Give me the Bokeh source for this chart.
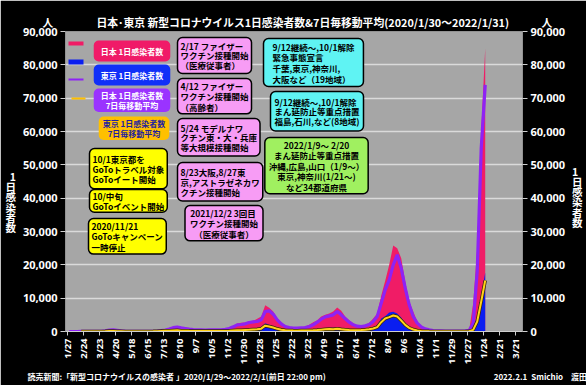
import math
import pandas as pd
from bokeh.plotting import figure
from bokeh.models import Label, BoxAnnotation, FixedTicker, LinearAxis, Range1d, NumeralTickFormatter, ColumnDataSource, Title
from bokeh.embed import file_html
from bokeh.resources import INLINE

nan = float("nan")

# ---- data (weekly readings, week centres from 2020-01-30) ----
FIRST_WEEK = "2020-01-30"
ORIGIN = "2020-01-27"

JAPAN_DAILY = [2, 5, 10, 20, 25, 40, 60, 50, 100, 250, 570, 620, 450, 280, 140, 80, 45, 45, 50, 50, 70, 100, 200,
               350, 650, 980, 1500, 1600, 1300, 1200, 900, 700, 650, 650, 600, 650, 650, 650, 700, 850, 1200, 1700,
               2400, 2600, 2700, 3100, 3200, 3800, 4500,
               7900, 7100, 6000, 4000, 2600, 1800, 1500, 1200, 1200, 1300, 1500, 2000, 2800, 3400, 4500, 5000, 5400,
               6000, 7200, 6200, 4500, 3400, 2500, 1900, 1800, 2000, 2600, 3900, 5400, 10700, 15200, 20000, 25800,
               25000, 22000, 15000, 9000, 6000, 3000, 1700, 1000, 600, 400, 250, 230, 200, 150, 150, 160, 200, 300, 550,
               8500, 25000, 60000, 85000]
JAPAN_AVG7 = [1, 2, 5, 12, 15, 25, 40, 35, 60, 170, 400, 500, 380, 220, 100, 50, 30, 30, 40, 40, 50, 70, 120,
              250, 450, 750, 1150, 1350, 1100, 900, 700, 550, 500, 530, 450, 500, 500, 530, 530, 650, 900, 1400,
              2000, 2100, 2300, 2700, 2900, 3000, 3500,
              6000, 6200, 5200, 3500, 2300, 1500, 1200, 1000, 1000, 1100, 1200, 1500, 2000, 2800, 3700, 4400, 4700,
              5000, 6000, 5000, 3800, 2800, 2000, 1600, 1500, 1700, 2100, 3000, 4500, 8500, 12500, 15500, 20000,
              23000, 19000, 13000, 8000, 4500, 2500, 1400, 800, 500, 300, 200, 180, 150, 120, 120, 120, 150, 200, 350,
              2500, 18000, 55000, 74000]
TOKYO_DAILY = [nan, nan, nan, 4, 5, 6, 8, 15, 45, 118, 180, 200, 160, 110, 60, 30, 15, 20, 25, 25, 45, 60, 120,
               240, 300, 370, 470, 470, 390, 340, 270, 230, 230, 220, 250, 270, 250, 280, 200, 250, 300, 390,
               530, 560, 600, 600, 820, 900, 1350,
               2500, 2000, 1500, 1000, 700, 500, 450, 340, 320, 340, 400, 430, 480, 550, 730, 860, 1030,
               1100, 1000, 800, 700, 550, 500, 500, 570, 700, 900, 1300, 1900, 3900, 4600, 5700, 5900,
               5400, 4200, 2400, 1400, 900, 500, 250, 100, 60, 40, 30, 30, 25, 25, 20, 25, 35, 50, 80,
               1200, 4500, 11000, 17600]
TOKYO_AVG7 = [nan, nan, nan, 2, 2, 3, 4, 8, 25, 70, 130, 160, 110, 70, 30, 20, 8, 10, 15, 18, 30, 50, 80,
              170, 220, 260, 330, 350, 260, 250, 200, 170, 170, 170, 150, 170, 170, 170, 160, 170, 220, 300,
              370, 400, 450, 500, 600, 650, 850,
              1750, 1500, 1200, 800, 550, 400, 300, 270, 260, 290, 300, 320, 380, 450, 550, 650, 750,
              700, 850, 650, 550, 450, 400, 380, 420, 530, 650, 900, 1300, 2800, 3900, 4300, 4800,
              4500, 3300, 2000, 1100, 600, 300, 160, 70, 40, 30, 20, 20, 20, 15, 15, 15, 20, 30, 60,
              500, 3000, 9000, 15300]

TICK_LABELS = ["1/27", "2/24", "3/23", "4/20", "5/18", "6/15", "7/13", "8/10", "9/7", "10/5", "11/2", "11/30",
               "12/28", "1/25", "2/22", "3/22", "4/19", "5/17", "6/14", "7/12", "8/9", "9/6", "10/4", "11/1",
               "11/29", "12/27", "1/24", "2/21", "3/21"]
Y_TICKS = [0, 10000, 20000, 30000, 40000, 50000, 60000, 70000, 80000, 90000]

origin = pd.Timestamp(ORIGIN)
weeks = pd.date_range(FIRST_WEEK, periods=len(JAPAN_DAILY), freq="7D")
day = [(d - origin).days for d in weeks]
tick_days = [(d - origin).days for d in pd.date_range(ORIGIN, periods=len(TICK_LABELS), freq="28D")]

src = ColumnDataSource(dict(day=day, jd=JAPAN_DAILY, ja=JAPAN_AVG7, td=TOKYO_DAILY, ta=TOKYO_AVG7))

# pixel helpers (page pixels -> data), frame: x 65..522, y 31..331
PX_PER_DAY = 448 / 784
def X(px):
    return (px - 67) / PX_PER_DAY
def Y(py):
    return (331 - py) * 300

JP = "Noto Sans CJK JP"
FONT = "Noto Sans"

p = figure(frame_width=457, frame_height=300,
           x_range=Range1d(X(65), X(522)), y_range=Range1d(0, 90000),
           output_backend="svg", toolbar_location=None,
           min_border_left=65, min_border_right=64, min_border_top=31, min_border_bottom=54,
           background_fill_color="#A6A6A6", border_fill_color="black", outline_line_color=None)

p.varea(x="day", y1=0, y2="jd", source=src, fill_color="#F01C66")
p.varea(x="day", y1=0, y2="td", source=src, fill_color="#0A1EF0")
p.line(x="day", y="ja", source=src, line_color="#8E22F5", line_width=3.2)
p.line(x="day", y="ta", source=src, line_color="#3A2A00", line_width=3.5)
p.line(x="day", y="ta", source=src, line_color="#FFD21A", line_width=2)

# axes
p.xgrid.grid_line_color = None
p.ygrid.grid_line_color = "#DADADA"
p.ygrid.grid_line_width = 1.5
p.ygrid.ticker = FixedTicker(ticks=Y_TICKS)

STACK = "1\n日\n感\n染\n者\n数"

def style_y(ax, blank_lines):
    ax.ticker = FixedTicker(ticks=Y_TICKS)
    ax.formatter = NumeralTickFormatter(format="0,0")
    ax.axis_line_color = None
    ax.major_tick_line_color = "#CFCFCF"
    ax.major_tick_out = 5
    ax.major_tick_in = 0
    ax.minor_tick_line_color = None
    ax.major_label_standoff = 3
    ax.major_label_text_color = "white"
    ax.major_label_text_font = FONT
    ax.major_label_text_font_style = "bold"
    ax.major_label_text_font_size = "11px"
    ax.axis_label = "\n" * blank_lines + STACK
    ax.axis_label_orientation = "horizontal"
    ax.axis_label_standoff = 4
    ax.axis_label_text_color = "white"
    ax.axis_label_text_font = JP
    ax.axis_label_text_font_style = "bold"
    ax.axis_label_text_font_size = "10.5px"
    ax.axis_label_text_line_height = 0.68

style_y(p.yaxis[0], 4)
ra = LinearAxis()
style_y(ra, 3)
p.add_layout(ra, "right")

xa = p.xaxis[0]
xa.ticker = FixedTicker(ticks=tick_days)
xa.major_label_overrides = {d: t for d, t in zip(tick_days, TICK_LABELS)}
xa.major_label_orientation = math.pi / 2
xa.axis_line_color = "#CFCFCF"
xa.major_tick_line_color = "#CFCFCF"
xa.major_tick_out = 4
xa.major_tick_in = 0
xa.minor_tick_line_color = None
xa.major_label_standoff = 3
xa.major_label_text_color = "white"
xa.major_label_text_font = FONT
xa.major_label_text_font_style = "bold"
xa.major_label_text_font_size = "9.5px"

# title (with the unit marks above both axes)
TITLE = "日本･東京 新型コロナウイルス1日感染者数&7日毎移動平均(2020/1/30～2022/1/31)"
p.title = Title(text="人" + "\u3000" * 3 + "\u2002" * 2 + TITLE + "\u3000" * 3 + "人",
                align="left", offset=-23, standoff=4, text_color="white", text_font=JP,
                text_font_style="bold", text_font_size="10.8px")

SOURCE = "読売新聞:「新型コロナウイルスの感染者 」2020/1/29～2022/2/1(前日 22:00 pm)"
SIGN = "2022.2.1\u2002Smichio"
p.add_layout(Title(text=SOURCE + "\u3000" * 21 + SIGN + "\u2003" + "渡田", align="left", offset=-38,
                   standoff=2, text_color="white", text_font=JP, text_font_style="bold",
                   text_font_size="8px"), "below")

# legend swatches
for (l, r, t, b, c) in [(68, 83, 41, 45, "#F01C66"), (68, 83, 59, 64, "#0A1EF0"),
                        (68, 83, 78, 80, "#8E22F5"), (71, 85, 97, 99, "#FFC000")]:
    p.add_layout(BoxAnnotation(left=X(l), right=X(r), top=Y(t), bottom=Y(b),
                               fill_color=c, fill_alpha=1, line_color=None))

def box(text, xpx, top, fill, color="black", align="left", size="8.5px", lh=0.85, pad=(3, 2),
        border="black", radius=5):
    p.add_layout(Label(x=X(xpx), y=Y(top), text=text, text_align=align, text_baseline="top",
                       text_font=JP, text_font_style="bold", text_font_size=size, text_color=color,
                       text_line_height=lh, background_fill_color=fill, border_line_color=border,
                       border_line_width=1.5, border_radius=radius, padding=pad))

# legend boxes
box("日本 1日感染者数", 131.5, 40, "#F01A68", "white", "center", "8px", 1.0, (7, 5), None)
box("東京 1日感染者数", 131.5, 64, "#1030F8", "white", "center", "8px", 1.0, (7, 5), None)
box("日本 1日感染者数\n7日毎移動平均", 131.5, 88, "#9A33FF", "white", "center", "8px", 0.95, (7, 1), None)
box("東京 1日感染者数\n7日毎移動平均", 133.5, 116, "#FFC000", "#1F1FA0", "center", "8px", 0.95, (4, 1), None)

YEL = "#FFFF00"
box("10/1東京都を\nGoToトラベル対象\nGoToイート開始", 89, 148, YEL, lh=0.84, pad=(3, 4))
box("10/中旬\nGoToイベント開始", 89, 189, YEL, lh=0.9, pad=(3, 0))
box("2020/11/21\nGoToキャンペーン\n一時停止", 88, 218, YEL, lh=0.9, pad=(3, 1))

PNK = "#F79CF5"
box("2/17  ファイザー\nワクチン接種開始\n（医療従事者）", 177, 37, PNK, lh=0.83, pad=(3, 2))
box("4/12  ファイザー\nワクチン接種開始\n（高齢者）", 177, 78, PNK, lh=0.89, pad=(3, 1))
box("5/24  モデルナワ\nクチン東・大・兵庫\n等大規模接種開始", 177, 118, PNK, lh=0.81, pad=(3, 3))
box("8/23大阪,8/27東\n京,アストラゼネカワ\nクチン接種開始", 177, 162, PNK, lh=0.85, pad=(3, 3))
box("2021/12/2  3回目\nワクチン接種開始\n（医療従事者）", 223.5, 205, PNK, align="center", lh=0.89, pad=(5, 1))

CYN = "#5FF3F3"
box("9/12継続～,10/1解除\n緊急事態宣言\n千葉,東京,神奈川,\n大阪など（19地域）", 263, 38, CYN, lh=0.89, pad=(9, 2))
box("9/12継続～,10/1解除\nまん延防止等重点措置\n福島,石川,など(8地域)", 270, 91, CYN, lh=0.81, pad=(4, 4))
box("2022/1/9～ 2/20\nまん延防止等重点措置\n沖縄,広島,山口（1/9～）\n東京,神奈川(1/21～)\nなど34都道府県", 316, 137,
    "#A0F060", align="center", lh=0.88, pad=(4, 1))

open("out.html", "w").write(file_html(p, INLINE))
